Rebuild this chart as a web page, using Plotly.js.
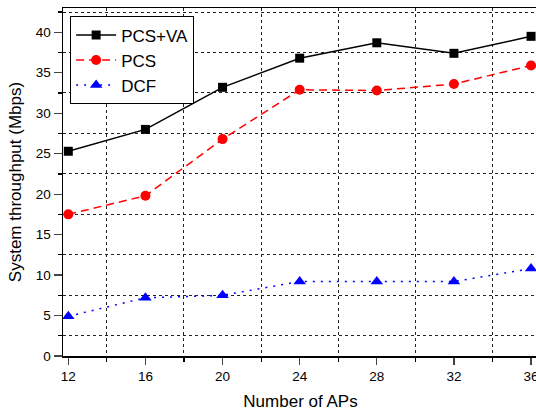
<!DOCTYPE html>
<html>
<head>
<meta charset="utf-8">
<script src="https://cdn.plot.ly/plotly-3.0.1.min.js"></script>
<style>html,body{margin:0;padding:0;overflow:hidden;background:#fff;}</style>
</head>
<body>
<div id="chart" style="width:540px;height:412px;"></div>
<script>
const aps = [12, 16, 20, 24, 28, 32, 36];
const pcsVa = [25.3, 28.0, 33.2, 36.8, 38.7, 37.4, 39.5];
const pcs = [17.5, 19.8, 26.8, 32.9, 32.8, 33.6, 35.9];
const dcf = [4.9, 7.2, 7.5, 9.2, 9.2, 9.2, 10.8];
const seriesNames = ['PCS+VA', 'PCS', 'DCF'];

const traces = [
  {x: aps, y: pcsVa, name: seriesNames[0], mode: 'lines+markers', type: 'scatter',
   line: {color: '#000000', width: 1.5, dash: 'solid'},
   marker: {symbol: 'square', size: 9, color: '#000000'}},
  {x: aps, y: pcs, name: seriesNames[1], mode: 'lines+markers', type: 'scatter',
   line: {color: '#ff0000', width: 1.5, dash: '8px,5px'},
   marker: {symbol: 'circle', size: 10, color: '#ff0000'}},
  {x: aps, y: dcf, name: seriesNames[2], mode: 'lines+markers', type: 'scatter',
   line: {color: '#0000ff', width: 1.5, dash: '2px,6px'},
   marker: {symbol: 'triangle-up', size: 11, color: '#0000ff'}}
];

const gridStyle = {gridcolor: '#222', gridwidth: 1, griddash: '3px,3px'};

const layout = {
  width: 540, height: 412,
  margin: {l: 63, r: 2, t: 8, b: 56},
  paper_bgcolor: '#fff', plot_bgcolor: '#fff',
  font: {family: 'Liberation Sans, Arial, sans-serif', color: '#000', size: 13},
  showlegend: true,
  legend: {x: 0.015, y: 0.976, xanchor: 'left', yanchor: 'top',
           bgcolor: '#fff', bordercolor: '#000', borderwidth: 1,
           font: {size: 17}, tracegroupgap: 0, itemwidth: 40},
  xaxis: {
    range: [11.725, 36.36], tickvals: aps, ticks: 'outside', ticklen: 7, tickwidth: 1.2,
    showline: true, linecolor: '#000', linewidth: 1.5, mirror: true,
    showgrid: false, zeroline: false,
    tickfont: {size: 13.5},
    title: {text: 'Number of APs', font: {size: 17}, standoff: 12},
    minor: Object.assign({tick0: 14, dtick: 4, ticks: 'outside', ticklen: 4, tickcolor: '#000', showgrid: true}, gridStyle)
  },
  yaxis: {
    range: [0, 43], tick0: 0, dtick: 5, ticks: 'outside', ticklen: 8, tickwidth: 1.2,
    showline: true, linecolor: '#000', linewidth: 1.5, mirror: true,
    showgrid: false, zeroline: false,
    tickfont: {size: 13.5},
    title: {text: 'System throughput (Mbps)', font: {size: 17}, standoff: 10},
    minor: Object.assign({tick0: 2.5, dtick: 5, ticks: 'outside', ticklen: 4, tickcolor: '#000', showgrid: true}, gridStyle)
  }
};

Plotly.newPlot('chart', traces, layout, {displayModeBar: false, staticPlot: true});
</script>
</body>
</html>
